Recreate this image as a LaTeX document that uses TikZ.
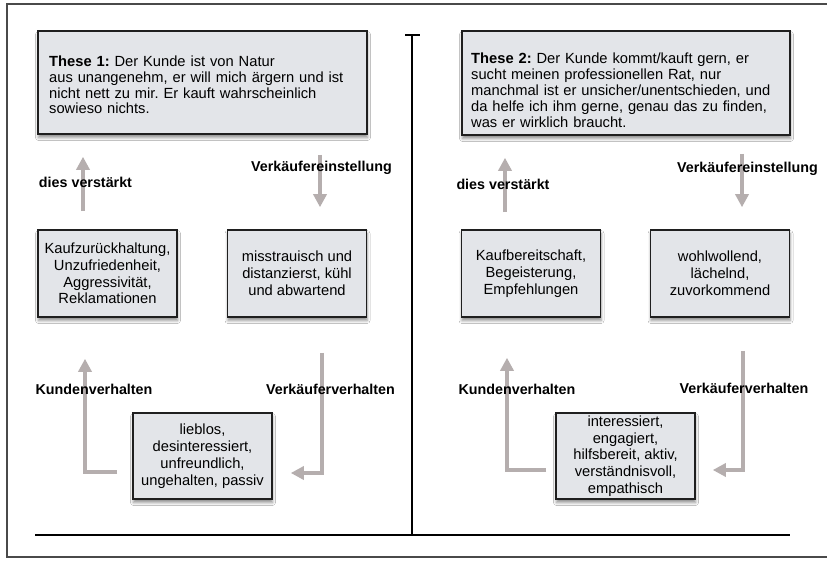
\documentclass[tikz,border=0pt]{standalone}
\usepackage{fontspec}
\setmainfont{Liberation Sans}
\usetikzlibrary{arrows.meta,shadows.blur}
\definecolor{boxfill}{HTML}{E3E5E9}
\definecolor{arrowgray}{HTML}{B5AEAE}
\definecolor{framegray}{HTML}{4A4A4A}
\frenchspacing

\begin{document}
\begin{tikzpicture}[x=1pt,y=-1pt,
  box/.style={draw=black!88, line width=1.6pt, fill=boxfill, align=center, inner sep=2pt,
    blur shadow={shadow xshift=0.5pt, shadow yshift=-3.5pt, shadow blur radius=3pt, shadow opacity=45},
    font=\fontsize{14.7}{16.8}\selectfont},
  small/.style={box, minimum width=139pt, minimum height=87pt},
  thesis/.style={align=left, text width=314pt, inner sep=0pt, anchor=north west,
    font=\fontsize{14.7}{15.9}\selectfont},
  lbl/.style={anchor=base, inner sep=1pt, font=\fontsize{14.3}{16}\bfseries\selectfont},
  arr/.style={draw=arrowgray, line width=4pt, -{Triangle[length=13pt,width=13pt]}},
  axis/.style={draw=black, line width=2pt}]

  % page and frame
  \fill[white] (0,0) rectangle (827,565);
  \useasboundingbox (0,0) rectangle (827,565);
  \draw[framegray, line width=1.2pt] (830,4) -- (7,4) -- (7,557) -- (830,557);

  % axes
  \coordinate (axtop) at (412,35);
  \coordinate (axbot) at (412,535);
  \coordinate (axleft) at (35,535);
  \coordinate (axright) at (790,535);
  \coordinate (capl) at (405,35);
  \coordinate (capr) at (420,35);
  \draw[axis] (axtop) -- (axbot);
  \draw[axis] (capl) -- (capr);
  \draw[axis, line width=2.4pt] (axleft) -- (axright);

  % thesis boxes
  \node[box, minimum width=329pt, minimum height=103pt] (t1) at (202.5,82.5) {};
  \node[thesis] (t1text) at (49,55.4)
    {\textbf{These 1:} Der Kunde ist von Natur\\
     aus unangenehm, er will mich ärgern und ist\\
     nicht nett zu mir. Er kauft wahrscheinlich\\
     sowieso nichts.};
  \node[box, minimum width=328pt, minimum height=104pt] (t2) at (626,83) {};
  \node[thesis] (t2text) at (471,53.1)
    {\textbf{These 2:} Der Kunde kommt/kauft gern, er\\
     sucht meinen professionellen Rat, nur\\
     manchmal ist er unsicher/unentschieden, und\\
     da helfe ich ihm gerne, genau das zu finden,\\
     was er wirklich braucht.};

  % left cycle
  \node[small] (k1) at (107.5,273.5) {Kaufzurückhaltung,\\Unzufriedenheit,\\Aggressivität,\\Reklamationen};
  \node[small] (m1) at (297,273.5) {misstrauisch und\\distanzierst, kühl\\und abwartend};
  \node[small, minimum height=86pt] (l1) at (202.5,456) {lieblos,\\desinteressiert,\\unfreundlich,\\ungehalten, passiv};

  % right cycle
  \node[small] (k2) at (531,273.5) {Kaufbereitschaft,\\Begeisterung,\\Empfehlungen};
  \node[small] (m2) at (720,273.5) {wohlwollend,\\lächelnd,\\zuvorkommend};
  \node[small, minimum height=86pt, inner sep=1pt] (l2) at (625.5,456) {interessiert,\\engagiert,\\hilfsbereit, aktiv,\\verständnisvoll,\\empathisch};

  % connectors, left
  \draw[arr, shorten <=18pt, shorten >=22pt] ([xshift=-24.5pt]k1.north) -- ([xshift=-119.5pt]t1.south);
  \draw[arr, shorten <=20pt, shorten >=22pt] ([xshift=117.5pt]t1.south) -- ([xshift=23pt]m1.north);
  \draw[arr, shorten <=15pt, shorten >=41pt] ([yshift=-16pt]l1.west) -| ([xshift=-22.5pt]k1.south);
  \draw[arr, shorten <=35pt, shorten >=18pt] ([xshift=25pt]m1.south) |- ([yshift=-17pt]l1.east);

  % connectors, right
  \draw[arr, shorten <=17pt, shorten >=22pt] ([xshift=-26pt]k2.north) -- ([xshift=-121pt]t2.south);
  \draw[arr, shorten <=18pt, shorten >=22pt] ([xshift=116pt]t2.south) -- ([xshift=22pt]m2.north);
  \draw[arr, shorten <=9pt, shorten >=40pt] ([yshift=-14pt]l2.west) -| ([xshift=-24pt]k2.south);
  \draw[arr, shorten <=33pt, shorten >=17pt] ([xshift=23pt]m2.south) |- ([yshift=-14pt]l2.east);

  % labels
  \node[lbl] (dv1) at (85.5,187) {dies verstärkt};
  \node[lbl] (ve1) at (321.5,171) {Verkäufereinstellung};
  \node[lbl] (kv1) at (94,394) {Kundenverhalten};
  \node[lbl] (vv1) at (330.5,394) {Verkäuferverhalten};
  \node[lbl] (dv2) at (503,189) {dies verstärkt};
  \node[lbl] (ve2) at (747.5,172) {Verkäufereinstellung};
  \node[lbl] (kv2) at (517,394) {Kundenverhalten};
  \node[lbl] (vv2) at (744,393) {Verkäuferverhalten};
\end{tikzpicture}
\end{document}
